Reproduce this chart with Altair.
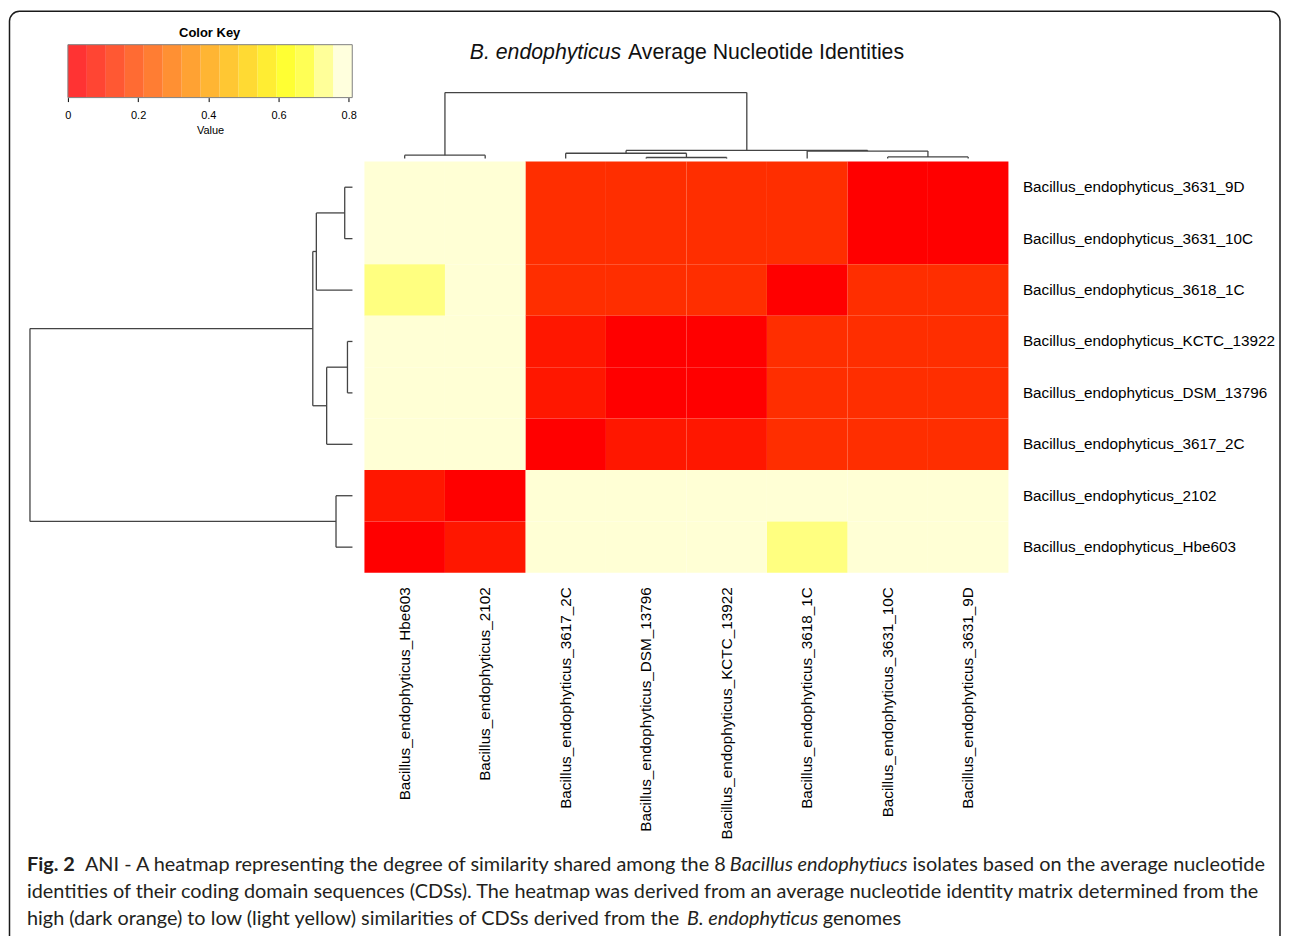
import altair as alt
import pandas as pd

# ---------------- data ----------------
PREFIX = "Bacillus_endophyticus_"
# isolates in heatmap row order (top -> bottom); columns use the reverse order
isolates = ["3631_9D", "3631_10C", "3618_1C", "KCTC_13922",
            "DSM_13796", "3617_2C", "2102", "Hbe603"]

# distance-like values (row/column order = isolates)
dist_matrix = [
    [0.00, 0.03, 0.13, 0.14, 0.14, 0.14, 0.79, 0.80],
    [0.03, 0.00, 0.13, 0.14, 0.14, 0.14, 0.79, 0.80],
    [0.13, 0.13, 0.00, 0.13, 0.13, 0.13, 0.78, 0.73],
    [0.14, 0.14, 0.13, 0.00, 0.02, 0.07, 0.80, 0.80],
    [0.14, 0.14, 0.13, 0.02, 0.00, 0.07, 0.80, 0.80],
    [0.14, 0.14, 0.13, 0.07, 0.07, 0.00, 0.80, 0.80],
    [0.79, 0.79, 0.78, 0.80, 0.80, 0.80, 0.00, 0.06],
    [0.80, 0.80, 0.73, 0.80, 0.80, 0.80, 0.06, 0.00],
]

# hierarchical clustering merges (node k is "m{k+1}")
merge_left = ["3631_9D", "m1", "KCTC_13922", "m3", "m2", "2102", "m5"]
merge_right = ["3631_10C", "3618_1C", "DSM_13796", "3617_2C", "m4", "Hbe603", "m6"]
merge_height = [0.024, 0.112, 0.0155, 0.080, 0.123, 0.051, 1.0]

# colour key
key_breaks = [0.0, 0.054, 0.108, 0.162, 0.216, 0.27, 0.324, 0.378, 0.432,
              0.486, 0.54, 0.594, 0.648, 0.702, 0.756, 0.81]
heat_colors = ["#FF0000", "#FF1700", "#FF2E00", "#FF4600", "#FF5D00",
               "#FF7400", "#FF8B00", "#FFA200", "#FFB900", "#FFD100",
               "#FFE800", "#FFFF00", "#FFFF2A", "#FFFF80", "#FFFFD5"]
key_ticks = [0, 0.2, 0.4, 0.6, 0.8]

title_italic = "B. endophyticus"
title_rest = "Average Nucleotide Identities"

caption_l1 = ["Fig. 2",
              "ANI - A heatmap representing the degree of similarity shared among the 8",
              "Bacillus endophytiucs",
              "isolates based on the average nucleotide"]
caption_l2 = ["identities of their coding domain sequences (CDSs). The heatmap was derived from an average nucleotide identity matrix determined from the"]
caption_l3 = ["high (dark orange) to low (light yellow) similarities of CDSs derived from the",
              "B. endophyticus",
              "genomes"]

# ---------------- helpers ----------------
FONT = "Liberation Sans"
LINE = "#444444"
row_order = isolates
col_order = isolates[::-1]


def dendro_segments(order):
    pos = {name: i + 0.5 for i, name in enumerate(order)}
    hgt = {name: 0.0 for name in order}
    segs = []
    for k, (a, b, h) in enumerate(zip(merge_left, merge_right, merge_height)):
        for c in (a, b):
            segs.append(dict(h1=hgt[c], h2=h, p1=pos[c], p2=pos[c]))
        segs.append(dict(h1=h, h2=h, p1=pos[a], p2=pos[b]))
        node = f"m{k + 1}"
        pos[node] = (pos[a] + pos[b]) / 2
        hgt[node] = h
    return pd.DataFrame(segs)


one = pd.DataFrame({"a": [0]})

# ---------------- colour key ----------------
key_df = pd.DataFrame({"start": key_breaks[:-1], "end": key_breaks[1:],
                       "color": heat_colors})
key_x = alt.Scale(domain=[0, 0.81], range=[38, 322.8])
key_rects = alt.Chart(key_df).mark_rect(opacity=0.8).encode(
    x=alt.X("start:Q", scale=key_x,
            axis=alt.Axis(values=key_ticks, title="Value", domain=False,
                          grid=False, tickSize=4, tickColor="#000000",
                          labelFont=FONT, labelFontSize=11, labelColor="#000000",
                          labelPadding=8, labelFlush=False, labelOverlap=False,
                          format="~g",
                          titleFont=FONT, titleFontSize=11,
                          titleFontWeight="normal", titleColor="#000000",
                          titlePadding=4)),
    x2="end",
    y=alt.value(0), y2=alt.value(53),
    color=alt.Color("color:N", scale=None),
)
key_box = alt.Chart(one).mark_rect(fillOpacity=0, stroke="#808080",
                                   strokeWidth=1).encode(
    x=alt.datum(key_breaks[0], scale=key_x),
    x2=alt.datum(key_breaks[-1]),
    y=alt.value(0), y2=alt.value(53),
)
key_title = alt.Chart(one).mark_text(font=FONT, fontSize=13, fontWeight="bold",
                                     color="#000000", baseline="middle").encode(
    x=alt.value(180), y=alt.value(-11.5), text=alt.value("Color Key"))
key = alt.layer(key_rects, key_box, key_title).properties(width=323, height=53)

# ---------------- column dendrogram + title ----------------
col_dend = alt.Chart(dendro_segments(col_order)).mark_rule(
    color=LINE, strokeWidth=1.3).encode(
    x=alt.X("p1:Q", scale=alt.Scale(domain=[0, 8]), axis=None),
    x2="p2",
    y=alt.Y("h1:Q", scale=alt.Scale(domain=[0, 1], range=[114, 48]), axis=None),
    y2="h2",
)
t1 = alt.Chart(one).mark_text(font=FONT, fontSize=21.3, fontStyle="italic",
                              align="right", baseline="middle",
                              color="#111111").encode(
    x=alt.value(257), y=alt.value(8), text=alt.value(title_italic))
t2 = alt.Chart(one).mark_text(font=FONT, fontSize=21.3, align="left",
                              baseline="middle", color="#111111").encode(
    x=alt.value(264), y=alt.value(8), text=alt.value(title_rest))
top = alt.layer(col_dend, t1, t2).properties(width=645, height=117)

# ---------------- row dendrogram ----------------
row_dend = alt.Chart(dendro_segments(row_order)).mark_rule(
    color=LINE, strokeWidth=1.3).encode(
    x=alt.X("h1:Q", scale=alt.Scale(domain=[0, 1], reverse=True), axis=None),
    x2="h2",
    y=alt.Y("p1:Q", scale=alt.Scale(domain=[0, 8], reverse=True), axis=None),
    y2="p2",
).properties(width=323, height=412)

# ---------------- heatmap ----------------
recs = []
for i, r in enumerate(isolates):
    for j, c in enumerate(isolates):
        recs.append(dict(row=PREFIX + r, col=PREFIX + c, value=dist_matrix[i][j]))
heat_df = pd.DataFrame(recs)

heat = alt.Chart(heat_df).mark_rect().encode(
    x=alt.X("col:N", sort=[PREFIX + n for n in col_order],
            scale=alt.Scale(paddingInner=0, paddingOuter=0),
            axis=alt.Axis(orient="bottom", labelAngle=270, ticks=False,
                          domain=False, title=None, labelFont=FONT,
                          labelFontSize=15.3, labelColor="#000000",
                          labelPadding=14, labelLimit=400)),
    y=alt.Y("row:N", sort=[PREFIX + n for n in row_order],
            scale=alt.Scale(paddingInner=0, paddingOuter=0),
            axis=alt.Axis(orient="right", ticks=False, domain=False,
                          title=None, labelFont=FONT, labelFontSize=15.3,
                          labelColor="#000000", labelPadding=14,
                          labelLimit=400)),
    color=alt.Color("value:Q",
                    scale=alt.Scale(type="threshold", domain=key_breaks[1:-1],
                                    range=heat_colors),
                    legend=None),
).properties(width=645, height=412)

# ---------------- caption + frame ----------------
CAP_FONT = "Lato"
CAP_SIZE = 19.9
CAP_COLOR = "#231f20"
OX, OY = 29, 573  # page position of this panel's origin


def cap(text, px, py, weight="normal", style="normal"):
    return alt.Chart(one).mark_text(
        font=CAP_FONT, fontSize=CAP_SIZE, fontWeight=weight, fontStyle=style,
        align="left", baseline="middle", color=CAP_COLOR).encode(
        x=alt.value(px - OX), y=alt.value(py - OY), text=alt.value(text))


caps = [
    cap(caption_l1[0], 26, 866, weight="bold"),
    cap(caption_l1[1], 84, 866),
    cap(caption_l1[2], 730, 866, style="italic"),
    cap(caption_l1[3], 913, 866),
    cap(caption_l2[0], 26, 893),
    cap(caption_l3[0], 26, 920),
    cap(caption_l3[1], 687, 920, style="italic"),
    cap(caption_l3[2], 823, 920),
]
frame = alt.Chart(one).mark_rect(fillOpacity=0, stroke="#1a1a1a",
                                 strokeWidth=1.5, cornerRadius=10).encode(
    x=alt.value(8.5 - OX), x2=alt.value(1281 - OX),
    y=alt.value(10.5 - OY), y2=alt.value(950 - OY))
caption = alt.layer(frame, *caps).properties(width=323, height=1)

chart = alt.concat(
    key, top, row_dend, heat, caption,
    columns=2,
    spacing={"row": 0, "column": 12},
    bounds="flush",
    align="each",
    padding={"left": 0, "top": 1, "right": 0, "bottom": 0},
).configure_view(stroke="transparent")

chart.save("out.html", embed_options={"renderer": "svg", "actions": False})
